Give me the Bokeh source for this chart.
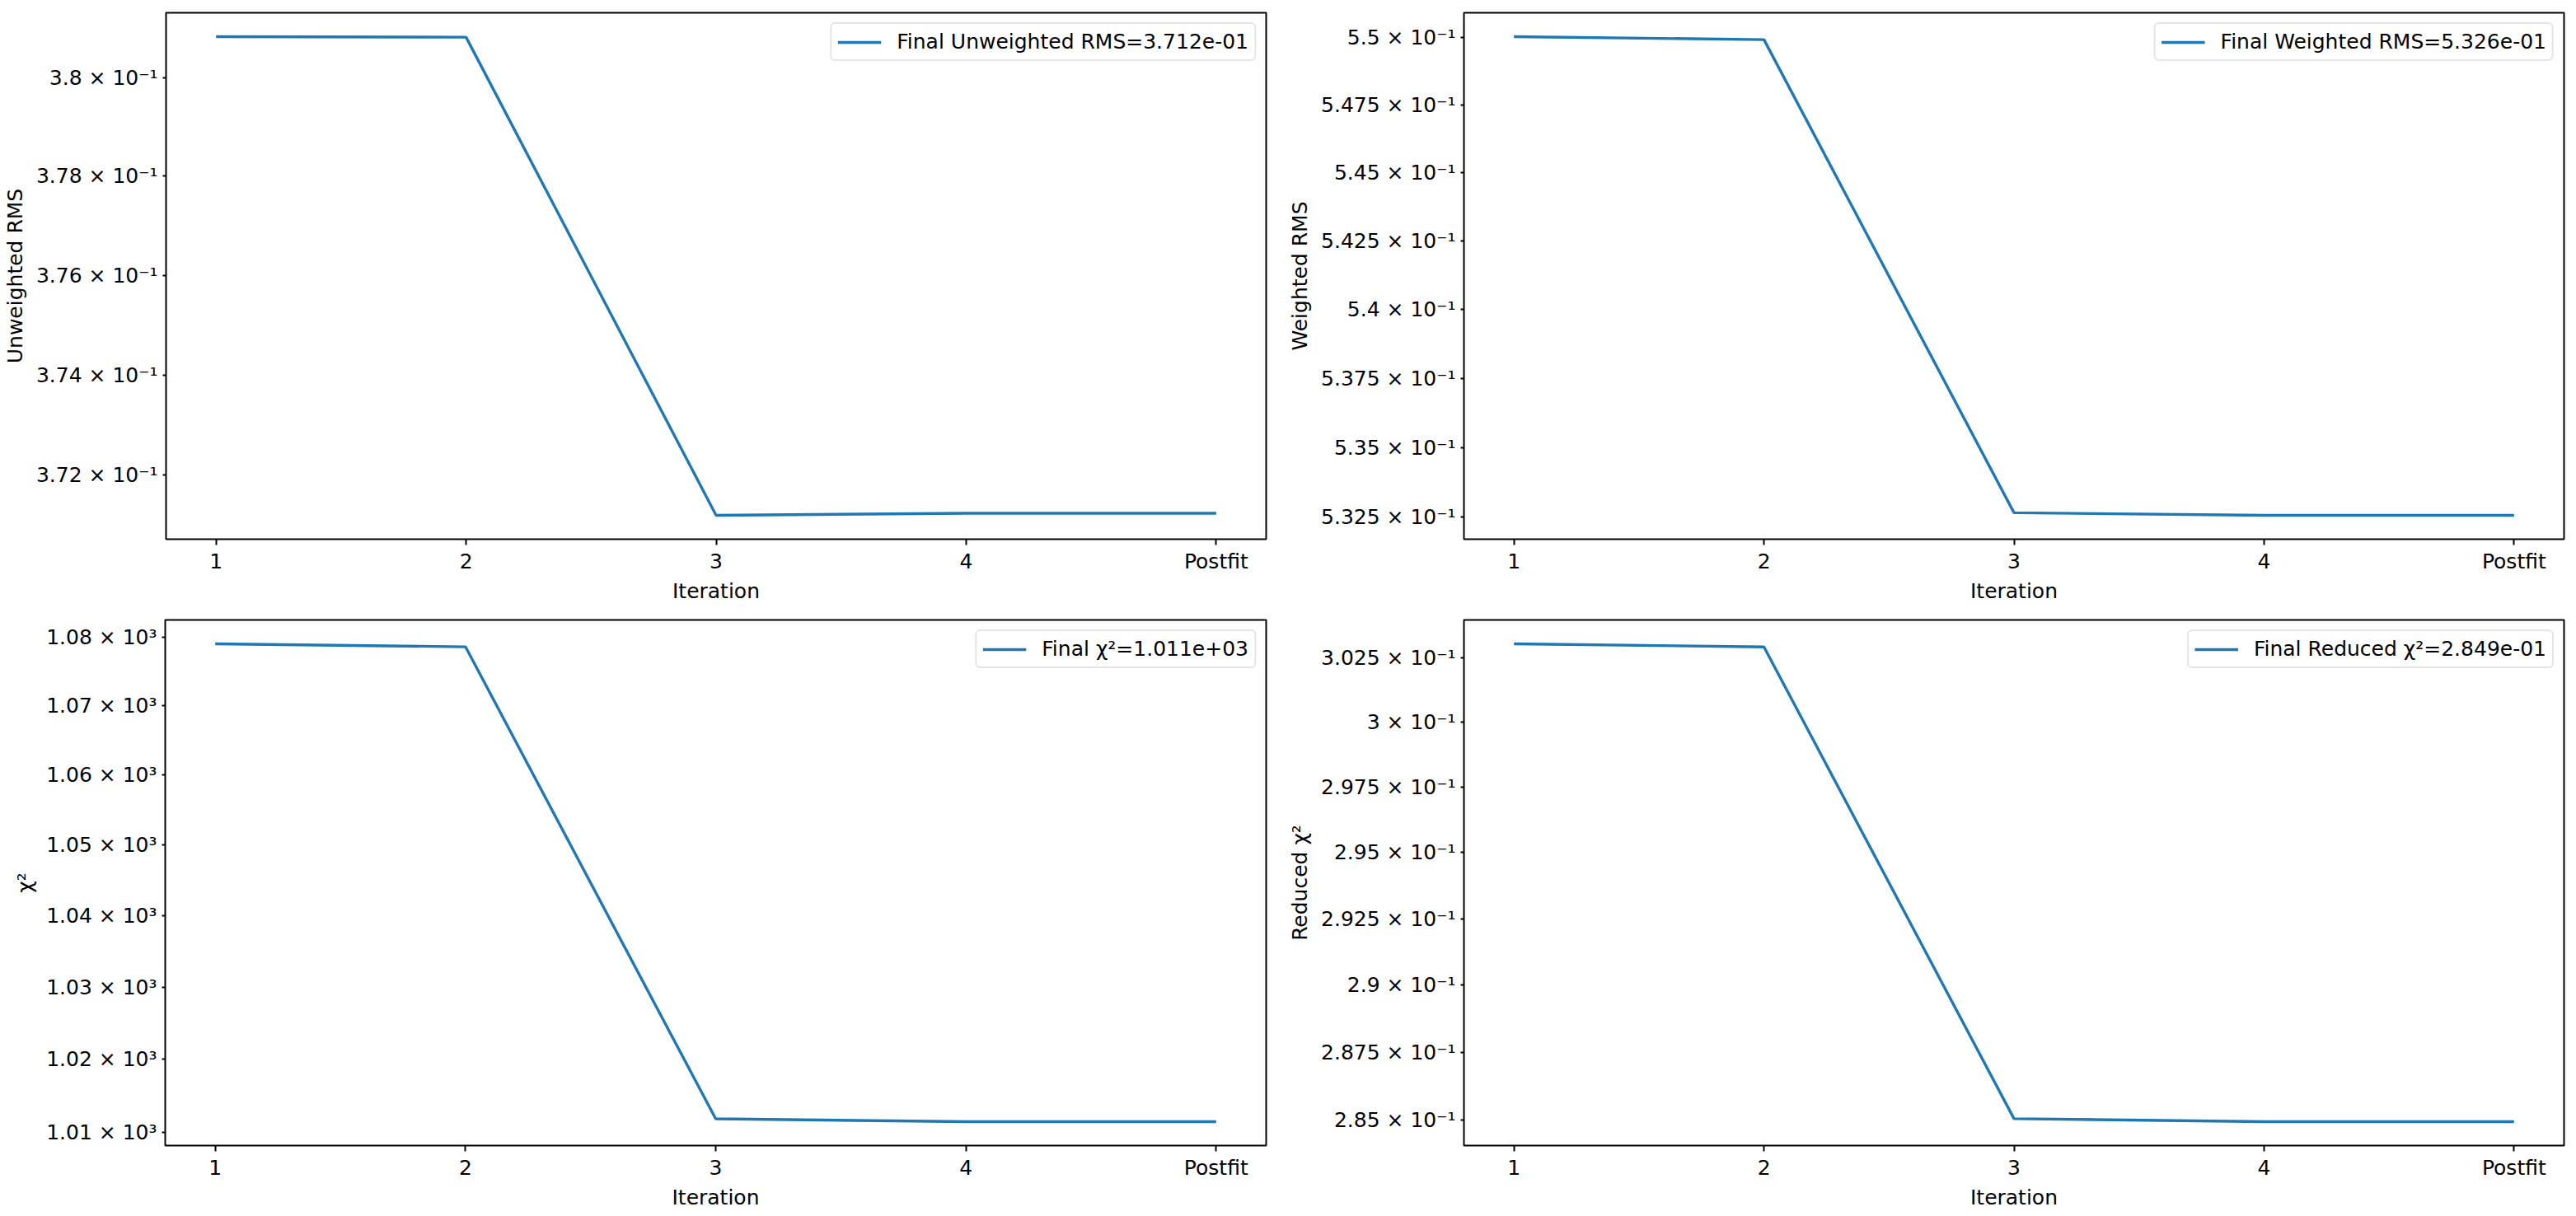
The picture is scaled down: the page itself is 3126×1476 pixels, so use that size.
import math
from bokeh.plotting import figure
from bokeh.models import Range1d, FixedTicker, Legend, LegendItem
from bokeh.layouts import column, row
from bokeh.embed import file_html
from bokeh.resources import INLINE

# ---------------- data ----------------
iterations = ["1", "2", "3", "4", "Postfit"]

unweighted_rms = [0.38083, 0.38082, 0.37120, 0.37124, 0.37124]
weighted_rms = [0.550026, 0.549918, 0.53266, 0.53257, 0.53257]
chi2 = [1078.99, 1078.56, 1011.83, 1011.43, 1011.43]
reduced_chi2 = [0.30304, 0.30292, 0.28506, 0.28495, 0.28495]

unweighted_ticks = [0.372, 0.374, 0.376, 0.378, 0.380]
unweighted_tick_labels = ["3.72 × 10⁻¹", "3.74 × 10⁻¹", "3.76 × 10⁻¹", "3.78 × 10⁻¹", "3.8 × 10⁻¹"]

weighted_ticks = [0.5325, 0.535, 0.5375, 0.54, 0.5425, 0.545, 0.5475, 0.55]
weighted_tick_labels = ["5.325 × 10⁻¹", "5.35 × 10⁻¹", "5.375 × 10⁻¹", "5.4 × 10⁻¹",
                        "5.425 × 10⁻¹", "5.45 × 10⁻¹", "5.475 × 10⁻¹", "5.5 × 10⁻¹"]

chi2_ticks = [1010, 1020, 1030, 1040, 1050, 1060, 1070, 1080]
chi2_tick_labels = ["1.01 × 10³", "1.02 × 10³", "1.03 × 10³", "1.04 × 10³",
                    "1.05 × 10³", "1.06 × 10³", "1.07 × 10³", "1.08 × 10³"]

reduced_ticks = [0.285, 0.2875, 0.29, 0.2925, 0.295, 0.2975, 0.3, 0.3025]
reduced_tick_labels = ["2.85 × 10⁻¹", "2.875 × 10⁻¹", "2.9 × 10⁻¹", "2.925 × 10⁻¹",
                       "2.95 × 10⁻¹", "2.975 × 10⁻¹", "3 × 10⁻¹", "3.025 × 10⁻¹"]

y_labels = ["Unweighted RMS", "Weighted RMS", "χ²", "Reduced χ²"]
legend_labels = ["Final Unweighted RMS=3.712e-01", "Final Weighted RMS=5.326e-01",
                 "Final χ²=1.011e+03", "Final Reduced χ²=2.849e-01"]
x_label = "Iteration"

FONT = "DejaVu Sans"
FS = "25px"
LINE_COLOR = "#1f77b4"


def make_panel(values, ticks, tick_labels, ylabel, legend_label,
               width, height, bl, br, bt, bb):
    x = list(range(1, len(iterations) + 1))
    lo, hi = min(values), max(values)
    span = math.log10(hi / lo)
    y0 = lo / 10 ** (0.05 * span)
    y1 = hi * 10 ** (0.05 * span)
    n = len(iterations)
    p = figure(width=width, height=height, output_backend="svg", toolbar_location=None,
               y_axis_type="log",
               x_range=Range1d(1 - 0.05 * (n - 1), n + 0.05 * (n - 1)),
               y_range=Range1d(y0, y1),
               min_border_left=bl, min_border_right=br, min_border_top=bt, min_border_bottom=bb)
    r = p.line(x, values, line_color=LINE_COLOR, line_width=3.4)

    p.xgrid.visible = False
    p.ygrid.visible = False
    p.outline_line_color = "black"
    p.outline_line_width = 2
    p.outline_line_alpha = 1.0
    p.background_fill_color = "white"
    p.border_fill_color = "white"

    xa = p.xaxis[0]
    xa.ticker = FixedTicker(ticks=x, minor_ticks=[])
    xa.major_label_overrides = {xi: lab for xi, lab in zip(x, iterations)}
    xa.axis_label = x_label
    xa.major_tick_out = 7
    xa.major_tick_in = 0
    xa.major_label_standoff = 5
    xa.axis_label_standoff = 4

    ya = p.yaxis[0]
    ya.ticker = FixedTicker(ticks=ticks, minor_ticks=[])
    ya.major_label_overrides = {t: lab for t, lab in zip(ticks, tick_labels)}
    ya.axis_label = ylabel
    ya.major_tick_out = 4
    ya.major_tick_in = 0
    ya.major_label_standoff = 6
    ya.axis_label_standoff = 8

    for ax in (xa, ya):
        ax.axis_line_color = None
        ax.major_tick_line_color = "black"
        ax.major_tick_line_width = 2
        ax.minor_tick_line_color = None
        ax.major_label_text_font = FONT
        ax.major_label_text_font_size = FS
        ax.major_label_text_color = "black"
        ax.axis_label_text_font = FONT
        ax.axis_label_text_font_size = FS
        ax.axis_label_text_font_style = "normal"
        ax.axis_label_text_color = "black"

    legend = Legend(items=[LegendItem(label=legend_label, renderers=[r])],
                    location="top_right")
    legend.label_text_font = FONT
    legend.label_text_font_size = FS
    legend.label_text_color = "black"
    legend.glyph_width = 53
    legend.glyph_height = 28
    legend.label_standoff = 19
    legend.padding = 7
    legend.spacing = 0
    legend.margin = 12
    legend.border_line_color = "#cccccc"
    legend.border_line_width = 2
    legend.background_fill_color = "white"
    legend.background_fill_alpha = 0.8
    if "border_radius" in Legend.properties():
        legend.border_radius = 6
    p.add_layout(legend)
    return p


p1 = make_panel(unweighted_rms, unweighted_ticks, unweighted_tick_labels, y_labels[0],
                legend_labels[0], 1560, 740, 200, 24, 15, 86)
p2 = make_panel(weighted_rms, weighted_ticks, weighted_tick_labels, y_labels[1],
                legend_labels[1], 1566, 740, 216, 15, 15, 86)
p3 = make_panel(chi2, chi2_ticks, chi2_tick_labels, y_labels[2],
                legend_labels[2], 1560, 736, 200, 24, 12, 86)
p4 = make_panel(reduced_chi2, reduced_ticks, reduced_tick_labels, y_labels[3],
                legend_labels[3], 1566, 736, 216, 15, 12, 86)

layout = column(row(p1, p2), row(p3, p4))

open("out.html", "w").write(file_html(layout, INLINE))
